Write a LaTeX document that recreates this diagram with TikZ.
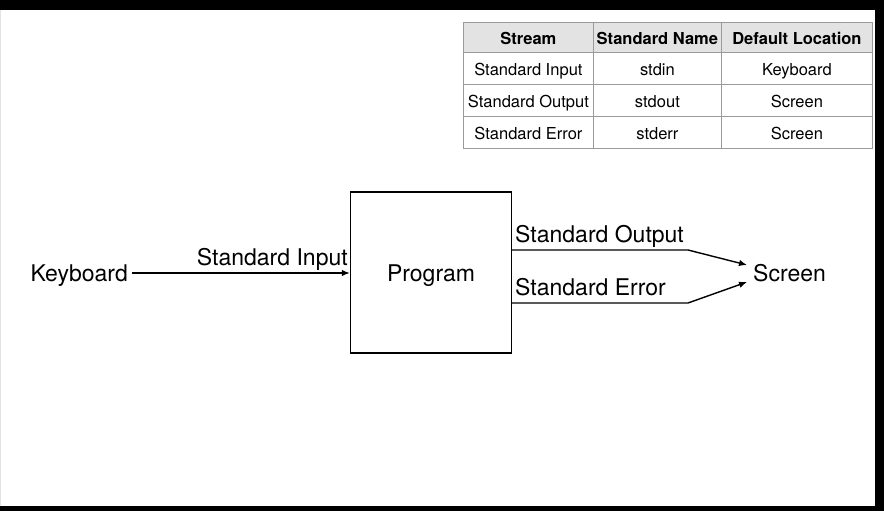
\documentclass[tikz,border=0pt]{standalone}
\usepackage{fontspec}
\setmainfont{TeX Gyre Heros}
\usetikzlibrary{arrows.meta}
\definecolor{hdrgray}{HTML}{E3E3E3}
\definecolor{gridgray}{HTML}{9A9A9A}
\definecolor{edgegray}{HTML}{E2E2E2}
\tikzset{
  x=1pt, y=-1pt,
  cellbox/.style={draw=gridgray, line width=0.8pt, minimum height=32pt, inner sep=0pt,
    text height=14.5pt, text depth=1pt, font=\fontsize{16.5}{18}\selectfont, anchor=north west},
  hdrbox/.style={cellbox, fill=hdrgray, minimum height=30pt, font=\fontsize{16.5}{18}\selectfont\bfseries},
  lbl/.style={font=\fontsize{23}{26}\selectfont, inner sep=0pt},
  flow/.style={line width=1.4pt, -{Latex[length=8pt,width=6.5pt]}},
  progbox/.style={draw, line width=1.4pt, minimum width=161pt, minimum height=161pt, inner sep=0pt}
}
\begin{document}
\begin{tikzpicture}
\useasboundingbox (0,0) rectangle (884,511);
% frame
\fill[white] (0,0) rectangle (884,511);
\fill[black] (0,0) rectangle (884,10);
\fill[black] (0,506) rectangle (884,511);
\fill[black] (875,0) rectangle (884,511);
\fill[edgegray] (0,10) rectangle (1.2,506);
% table
\node[hdrbox, minimum width=130pt] (h1) at (463,22) {Stream};
\node[hdrbox, minimum width=128pt] (h2) at (593,22) {Standard Name};
\node[hdrbox, minimum width=151pt] (h3) at (721,22) {Default Location};
\node[cellbox, minimum width=130pt] (a1) at (463,52) {Standard Input};
\node[cellbox, minimum width=128pt] (a2) at (593,52) {stdin};
\node[cellbox, minimum width=151pt] (a3) at (721,52) {Keyboard};
\node[cellbox, minimum width=130pt] (b1) at (463,84) {Standard Output};
\node[cellbox, minimum width=128pt] (b2) at (593,84) {stdout};
\node[cellbox, minimum width=151pt] (b3) at (721,84) {Screen};
\node[cellbox, minimum width=130pt] (c1) at (463,116) {Standard Error};
\node[cellbox, minimum width=128pt] (c2) at (593,116) {stderr};
\node[cellbox, minimum width=151pt] (c3) at (721,116) {Screen};
% diagram
\node[progbox] (prog) at (431,272.5) {};
\node[lbl, anchor=base] (proglbl) at (431,281) {Program};
\node[lbl, anchor=base east] (kbd) at (128,281) {Keyboard};
\node[lbl, anchor=base west] (scr) at (753,281) {Screen};
\coordinate (kstart) at (132,273);
\draw[flow] (kstart) -- (kstart -| prog.west);
\node[lbl, anchor=base east] (inlbl) at (348,265) {Standard Input};
\coordinate (o1) at (prog.east |- 0,250);
\coordinate (o2) at (688,250);
\coordinate (o3) at (747,265);
\coordinate (e1) at (prog.east |- 0,303);
\coordinate (e2) at (688,303);
\coordinate (e3) at (747,282);
\draw[flow] (o1) -- (o2) -- (o3);
\draw[flow] (e1) -- (e2) -- (e3);
\node[lbl, anchor=base west] (outlbl) at (515,242) {Standard Output};
\node[lbl, anchor=base west] (errlbl) at (515,295) {Standard Error};
\end{tikzpicture}
\end{document}
